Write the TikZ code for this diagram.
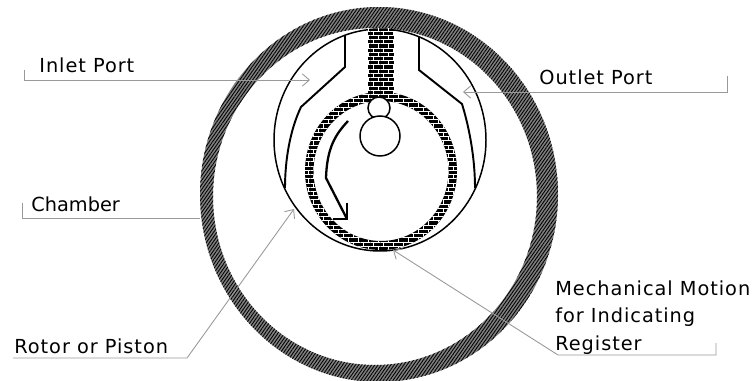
\documentclass[tikz,border=0pt]{standalone}
\usepackage{fontspec}
\setmainfont[LetterSpace=5]{DejaVu Sans}
\newfontfamily\tightface{DejaVu Sans}
\usetikzlibrary{arrows.meta, patterns.meta, patterns}
\pgfdeclarepatternformonly{brickwork}{\pgfqpoint{-0.1pt}{-0.1pt}}{\pgfqpoint{5.8pt}{4.9pt}}{\pgfqpoint{5.7pt}{4.8pt}}{
    \pgfsetlinewidth{0.33pt}
    \pgfpathmoveto{\pgfqpoint{0pt}{0pt}}\pgfpathlineto{\pgfqpoint{5.7pt}{0pt}}
    \pgfpathmoveto{\pgfqpoint{0pt}{2.4pt}}\pgfpathlineto{\pgfqpoint{5.7pt}{2.4pt}}
    \pgfpathmoveto{\pgfqpoint{1.4pt}{0pt}}\pgfpathlineto{\pgfqpoint{1.4pt}{2.4pt}}
    \pgfpathmoveto{\pgfqpoint{4.25pt}{2.4pt}}\pgfpathlineto{\pgfqpoint{4.25pt}{4.8pt}}
    \pgfusepath{stroke}
}

\begin{document}
\begin{tikzpicture}[
        x=0.02cm, y=-0.02cm,
        >={Straight Barb[length=4pt, width=7pt]},
        outline/.style={draw, line width=0.85pt},
        heavy/.style={draw, line width=1.1pt},
        brickfill/.style={fill=black, postaction={pattern=brickwork, pattern color=white}},
        leader/.style={draw=gray!80, line width=0.5pt},
        callout/.style={anchor=base west, font=\fontsize{11}{15.6}\selectfont, align=left, inner sep=0pt}
    ]
        \useasboundingbox (0, 0) rectangle (753, 381);

        % Chamber wall
        \path[even odd rule, fill=black!50, postaction={pattern={Lines[angle=55, distance=1.5pt, line width=0.5pt]}, pattern color=black}]
            (379, 194.5) ellipse [x radius=179, y radius=187.5]
            (375, 196.5) ellipse [x radius=162, y radius=168.5];

        % Housing
        \draw[outline] (380, 140) ellipse [x radius=106, y radius=111];

        % Port walls
        \draw[heavy] (345, 35) -- (345, 67) -- (301, 107) .. controls (290, 130) and (285, 160) .. (285, 188);
        \draw[heavy] (419, 37) -- (419, 70) -- (462, 104) .. controls (470, 130) and (475, 160) .. (475, 188);

        % Rotor and its stem
        \path[brickfill] (368, 29) rectangle (394, 95);
        \path[brickfill, even odd rule] (381, 171) ellipse [x radius=76, y radius=79]
            (381, 171) ellipse [x radius=67.5, y radius=70];

        % Shaft
        \draw[outline, fill=white] (379, 108) circle [radius=11];
        \draw[outline, fill=white] (380, 136) circle [radius=20];

        % Direction of rotation
        \draw[heavy, line width=1.3pt] (348, 121) .. controls (335, 135) and (327, 148) .. (326, 178) -- (347, 219);
        \draw[heavy, line width=1.3pt] (347, 203) -- (347, 219) -- (333, 219);

        % Labels
        \node[callout] (InletLabel) at (39, 73) {Inlet Port};
        \node[callout] (OutletLabel) at (539, 85) {Outlet Port};
        \node[callout, font=\fontsize{11}{15.6}\tightface] (ChamberLabel) at (31, 212) {Chamber};
        \node[callout] (RotorLabel) at (14, 353) {Rotor or Piston};
        \node[callout] (MotionLabel) at (555, 350) {Mechanical Motion\\for Indicating\\Register};

        % Leaders
        \coordinate (InletEnd) at (24, 70);
        \coordinate (InletTip) at (310, 80);
        \coordinate (OutletEnd) at (727, 76);
        \coordinate (OutletTip) at (463, 92);
        \coordinate (ChamberEnd) at (22, 203);
        \coordinate (ChamberTip) at (200, 218);
        \coordinate (RotorEnd) at (13, 358);
        \coordinate (RotorBend) at (187, 358);
        \coordinate (RotorTip) at (294, 209);
        \coordinate (MotionEnd) at (716, 343);
        \coordinate (MotionBend) at (558, 355);
        \coordinate (MotionTip) at (393, 250);
        \draw[leader, ->] (InletEnd) |- (InletTip);
        \draw[leader, ->] (OutletEnd) |- (OutletTip);
        \draw[leader] (ChamberEnd) |- (ChamberTip);
        \draw[leader, ->] (RotorEnd) -- (RotorBend) -- (RotorTip);
        \draw[leader, ->] (MotionEnd) |- (MotionBend) -- (MotionTip);
    \end{tikzpicture}
\end{document}
